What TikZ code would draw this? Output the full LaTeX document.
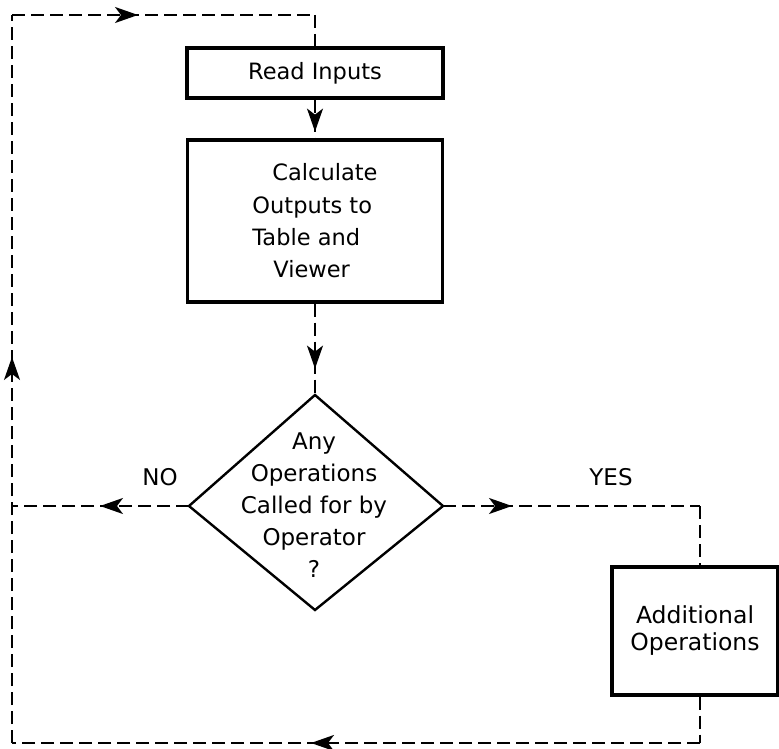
\documentclass[tikz,border=0pt]{standalone}
\usepackage{fontspec}
\setmainfont{DejaVu Sans}
\usetikzlibrary{arrows.meta,decorations.markings}
\begin{document}
\begin{tikzpicture}[x=1pt,y=1pt,
  flow/.style={line width=1.7pt, dash pattern=on 13pt off 6pt},
  box/.style={draw, line width=3.2pt, inner sep=0pt},
  midtip/.style={postaction={decorate, decoration={markings,
      mark=at position #1 with {\arrow[solid]{Stealth[length=23pt,width=16pt,inset=6pt]}}}}},
  lbl/.style={font=\fontsize{23}{28}\selectfont, inner sep=0pt}]
\useasboundingbox (0,0) rectangle (779,748);

% boxes
\node[box, minimum width=256pt, minimum height=50pt, font=\fontsize{22.5}{28}\selectfont]
  (read) at (315,675) {Read Inputs};
\node[box, minimum width=255pt, minimum height=162pt, align=left,
      font=\fontsize{22.5}{32.3}\selectfont]
  (calc) at (315,527) {\hspace*{20pt}Calculate\\Outputs to\\Table and\\\hspace*{21pt}Viewer};
\node[box, minimum width=166pt, minimum height=128pt, align=center,
      font=\fontsize{23.5}{27}\selectfont]
  (add) at (695,117) {Additional\\Operations};

% decision diamond
\coordinate (dT) at (315,353);
\coordinate (dB) at (315,138);
\coordinate (dL) at (189,242);
\coordinate (dR) at (443,242);
\draw[line width=2.4pt, line join=miter] (dT) -- (dR) -- (dB) -- (dL) -- cycle;
\node[align=center, inner sep=0pt, font=\fontsize{23}{32}\selectfont]
  (dtext) at (314,243) {Any\\Operations\\Called for by\\Operator\\?};

% labels
\node[lbl] (no) at (160,271) {NO};
\node[lbl] (yes) at (611,271) {YES};

% route coordinates
\coordinate (noend) at (12,242);
\coordinate (yesc) at (700,242);
\coordinate (botc) at (700,5);
\coordinate (blc) at (12,5);
\coordinate (tlc) at (12,733);
\coordinate (trc) at (315,733);

% connectors
\draw[flow, midtip=32pt] (read.south) -- (calc.north);
\draw[flow, midtip=65pt] (calc.south) -- (dT);
\draw[flow, midtip=89pt] (dL) -- (noend);
\draw[flow, midtip=69pt] (dR) -- (yesc);
\draw[flow] (yesc) -- (yesc |- add.north);
\draw[flow] (add.south -| botc) -- (botc);
\draw[flow, midtip=389pt] (botc) -- (blc);
\draw[flow, midtip=386pt] (blc) -- (tlc);
\draw[flow, midtip=126pt] (tlc) -- (trc);
\draw[flow] (trc) -- (read.north);
\end{tikzpicture}
\end{document}
